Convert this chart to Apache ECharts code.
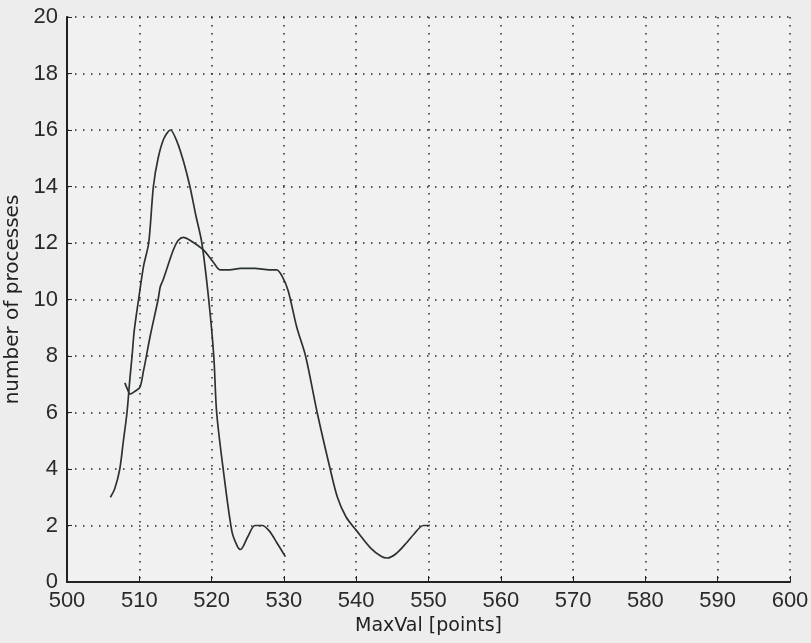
<!DOCTYPE html>
<html>
<head>
<meta charset="utf-8">
<script src="https://cdn.jsdelivr.net/npm/echarts@6/dist/echarts.min.js"></script>
<style>
html,body{margin:0;padding:0;background:#ededed;}
#chart{width:811px;height:643px;}
</style>
</head>
<body>
<div id="chart"></div>
<script>
const xTicks = [500, 510, 520, 530, 540, 550, 560, 570, 580, 590, 600];
const yTicks = [0, 2, 4, 6, 8, 10, 12, 14, 16, 18, 20];

const seriesA_x = [506.0, 506.6, 507.3, 507.8, 508.3, 508.7, 509.0, 509.3, 509.9, 510.6, 511.3, 511.95, 512.6, 513.4, 514.3, 515.2, 516.1, 517.0, 517.8, 518.65, 519.6, 520.3, 520.7, 521.6, 522.8, 523.5, 524.0, 525.0, 526.0, 527.0, 528.0, 529.0, 530.2];
const seriesA_y = [3.0, 3.3, 4.0, 5.0, 6.0, 7.2, 8.0, 8.9, 10.0, 11.2, 12.0, 14.0, 15.0, 15.7, 16.0, 15.6, 14.9, 14.0, 13.0, 12.0, 10.0, 8.0, 6.0, 4.0, 1.8, 1.3, 1.15, 1.6, 2.0, 2.0, 1.8, 1.4, 0.9];

const seriesB_x = [508.0, 508.4, 508.7, 509.4, 510.1, 510.6, 510.8, 511.5, 512.6, 512.9, 513.3, 514.7, 515.4, 516.1, 517.0, 518.9, 520.3, 521.2, 522.5, 524.0, 526.0, 528.0, 529.0, 529.8, 530.6, 531.8, 533.0, 534.6, 536.4, 537.4, 538.6, 540.1, 542.0, 543.5, 544.3, 545.5, 547.0, 548.0, 549.3, 550.2];
const seriesB_y = [7.05, 6.8, 6.65, 6.75, 6.9, 7.5, 7.75, 8.7, 10.0, 10.45, 10.7, 11.75, 12.1, 12.2, 12.1, 11.75, 11.3, 11.05, 11.05, 11.1, 11.1, 11.05, 11.05, 10.8, 10.3, 9.0, 8.0, 6.0, 4.0, 3.0, 2.3, 1.8, 1.2, 0.9, 0.85, 1.0, 1.4, 1.7, 2.0, 2.0];

const xName = 'MaxVal [points]';
const yName = 'number of processes';

function pairs(xs, ys) { return xs.map((x, i) => [x, ys[i]]); }

const labelFont = '"Liberation Sans Narrow", "Liberation Sans", Arial, sans-serif';
const nameFont = '"DejaVu Sans", "Liberation Sans", sans-serif';
const gridLine = { show: true, lineStyle: { color: '#262626', width: 1.5, type: [1.5, 6.5] } };

const chart = echarts.init(document.getElementById('chart'), null, { renderer: 'canvas' });
chart.setOption({
  backgroundColor: '#ededed',
  animation: false,
  grid: { left: 67, right: 21, top: 17, bottom: 61, show: true, backgroundColor: '#f1f1f1', borderWidth: 0, outerBoundsMode: 'none', containLabel: false },
  xAxis: {
    type: 'value', min: 500, max: 600, interval: 10,
    name: xName, nameLocation: 'middle', nameGap: 30,
    nameTextStyle: { fontFamily: nameFont, fontSize: 19, color: '#222' },
    axisLine: { show: true, onZero: false, lineStyle: { color: '#222', width: 2 } },
    axisTick: { show: true, inside: true, length: 6, lineStyle: { color: '#222' } },
    axisLabel: { fontFamily: labelFont, fontSize: 22, color: '#2a2a2a', margin: 8 },
    splitLine: gridLine
  },
  yAxis: {
    type: 'value', min: 0, max: 20, interval: 2,
    name: yName, nameLocation: 'middle', nameGap: 40,
    nameTextStyle: { fontFamily: nameFont, fontSize: 20, color: '#222' },
    axisLine: { show: true, onZero: false, lineStyle: { color: '#222', width: 2 } },
    axisTick: { show: true, inside: true, length: 5, lineStyle: { color: '#222' } },
    axisLabel: { fontFamily: labelFont, fontSize: 22, color: '#2a2a2a', margin: 9 },
    splitLine: gridLine
  },
  series: [
    { type: 'line', data: pairs(seriesA_x, seriesA_y), smooth: 0.3, showSymbol: false,
      lineStyle: { color: '#2c3232', width: 1.7 } },
    { type: 'line', data: pairs(seriesB_x, seriesB_y), smooth: 0.3, showSymbol: false,
      lineStyle: { color: '#2c3232', width: 1.7 } }
  ]
});
</script>
</body>
</html>
